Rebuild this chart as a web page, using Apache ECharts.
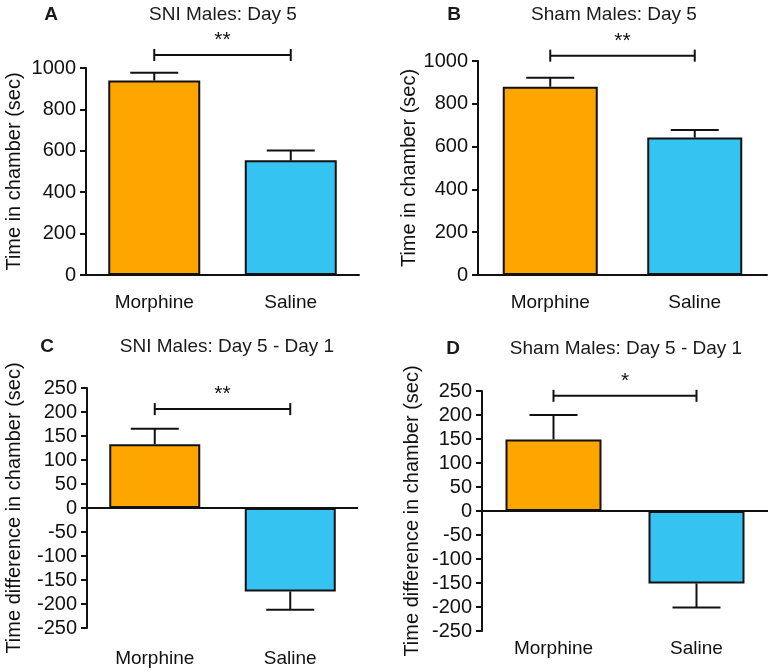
<!DOCTYPE html>
<html>
<head>
<meta charset="utf-8">
<script src="https://cdn.jsdelivr.net/npm/echarts@6/dist/echarts.min.js"></script>
<style>
  html, body { margin: 0; padding: 0; background: #fff; }
  #chart { width: 772px; height: 672px; }
</style>
</head>
<body>
<div id="chart"></div>
<script>
// ---- Data ----
const categories = ['Morphine', 'Saline'];

const meanA = [940, 554];
const errA  = [37, 48];
const meanB = [880, 642];
const errB  = [42, 36];
const meanC = [133, -174];
const errC  = [32, 38];
const meanD = [149, -151];
const errD  = [51, 50];

const titles  = ['SNI Males: Day 5', 'Sham Males: Day 5', 'SNI Males: Day 5 - Day 1', 'Sham Males: Day 5 - Day 1'];
const letters = ['A', 'B', 'C', 'D'];
const sigLabels = ['**', '**', '**', '*'];
const bracketY  = [1063, 1025, 206, 240];

const yNameTop    = 'Time in chamber (sec)';
const yNameBottom = 'Time difference in chamber (sec)';

// ---- Styling ----
const FONT = '"Liberation Sans", Arial, sans-serif';
const INK = '#111';
const ORANGE = '#FFA500';
const BLUE = '#35C4F2';

const grids = [
  { left: 86,  top: 68,  width: 273, height: 207 },
  { left: 478, top: 61,  width: 289, height: 214 },
  { left: 87,  top: 388, width: 271, height: 240 },
  { left: 482, top: 391, width: 286, height: 240 }
];
const means = [meanA, meanB, meanC, meanD];
const errs  = [errA, errB, errC, errD];
const barWidths = [92, 95, 91, 96];
const nameGaps = [62, 56, 63, 60];
const labelMargins = [18, 18, 21, 8];
const titlePos = [
  { x: 218, y: 0,   lx: 46 },
  { x: 609, y: 0,   lx: 449 },
  { x: 222, y: 332, lx: 42 },
  { x: 621, y: 334, lx: 448 }
];

function errRender(params, api) {
  const x = api.value(0), m = api.value(1), e = api.value(2);
  const end = m >= 0 ? m + e : m - e;
  const p0 = api.coord([x, m]);
  const p1 = api.coord([x, end]);
  const st = { stroke: INK, lineWidth: 2 };
  return {
    type: 'group',
    children: [
      { type: 'line', shape: { x1: p0[0], y1: p0[1], x2: p1[0], y2: p1[1] }, style: st },
      { type: 'line', shape: { x1: p1[0] - 24, y1: p1[1], x2: p1[0] + 24, y2: p1[1] }, style: st }
    ]
  };
}

function bracketRender(params, api) {
  const y = api.value(2);
  const p0 = api.coord([api.value(0), y]);
  const p1 = api.coord([api.value(1), y]);
  const st = { stroke: INK, lineWidth: 2 };
  const label = sigLabels[Math.floor(params.seriesIndex / 3)];
  return {
    type: 'group',
    children: [
      { type: 'line', shape: { x1: p0[0], y1: p0[1], x2: p1[0], y2: p1[1] }, style: st },
      { type: 'line', shape: { x1: p0[0], y1: p0[1] - 6, x2: p0[0], y2: p0[1] + 6 }, style: st },
      { type: 'line', shape: { x1: p1[0], y1: p1[1] - 6, x2: p1[0], y2: p1[1] + 6 }, style: st },
      { type: 'text', style: { text: label, x: (p0[0] + p1[0]) / 2, y: p0[1] - 4,
        textAlign: 'center', textVerticalAlign: 'bottom', fontSize: 21, fontFamily: FONT, fill: INK } }
    ]
  };
}

const option = {
  animation: false,
  backgroundColor: '#fff',
  title: [],
  grid: grids,
  xAxis: [],
  yAxis: [],
  series: []
};

for (let i = 0; i < 4; i++) {
  const lower = i >= 2;
  option.title.push({
    text: titles[i], left: titlePos[i].x, top: titlePos[i].y, textAlign: 'center',
    textStyle: { fontFamily: FONT, fontSize: 19, fontWeight: 'normal', color: '#1a1a1a' }
  });
  option.title.push({
    text: letters[i], left: titlePos[i].lx, top: titlePos[i].y, textAlign: 'center',
    textStyle: { fontFamily: FONT, fontSize: 19, fontWeight: 'bold', color: '#1a1a1a' }
  });
  option.xAxis.push({
    type: 'category', gridIndex: i, data: categories,
    axisLine: lower ? { show: false, onZero: false } : { show: true, lineStyle: { color: INK, width: 2 } },
    axisTick: { show: false },
    axisLabel: { fontFamily: FONT, fontSize: 19, color: INK, margin: labelMargins[i] }
  });
  option.yAxis.push({
    type: 'value', gridIndex: i,
    min: lower ? -250 : 0, max: lower ? 250 : 1000, interval: lower ? 50 : 200,
    name: lower ? yNameBottom : yNameTop,
    nameLocation: 'middle', nameGap: nameGaps[i], nameRotate: 90,
    nameTextStyle: { fontFamily: FONT, fontSize: 20, color: INK },
    axisLine: { show: true, lineStyle: { color: INK, width: 2 } },
    axisTick: { show: true, length: 6, lineStyle: { color: INK, width: 2 } },
    axisLabel: { fontFamily: FONT, fontSize: 20, color: INK, margin: 10, formatter: v => String(v) },
    splitLine: { show: false }
  });
  const bar = {
    type: 'bar', xAxisIndex: i, yAxisIndex: i, barWidth: barWidths[i],
    data: means[i].map((v, k) => ({ value: v, itemStyle: { color: k === 0 ? ORANGE : BLUE } })),
    itemStyle: { borderColor: INK, borderWidth: 2 },
    z: 2
  };
  if (lower) {
    bar.markLine = {
      silent: true, symbol: 'none', label: { show: false },
      lineStyle: { color: INK, width: 2, type: 'solid' },
      data: [{ yAxis: 0 }]
    };
  }
  option.series.push(bar);
  option.series.push({
    type: 'custom', xAxisIndex: i, yAxisIndex: i, renderItem: errRender, clip: false, z: 3,
    encode: { x: 0, y: 1 },
    data: categories.map((c, k) => [k, means[i][k], errs[i][k]])
  });
  option.series.push({
    type: 'custom', xAxisIndex: i, yAxisIndex: i, renderItem: bracketRender, clip: false, z: 3,
    encode: { x: 0, y: 2 },
    data: [[0, 1, bracketY[i]]]
  });
}

const chart = echarts.init(document.getElementById('chart'));
chart.setOption(option);
</script>
</body>
</html>
